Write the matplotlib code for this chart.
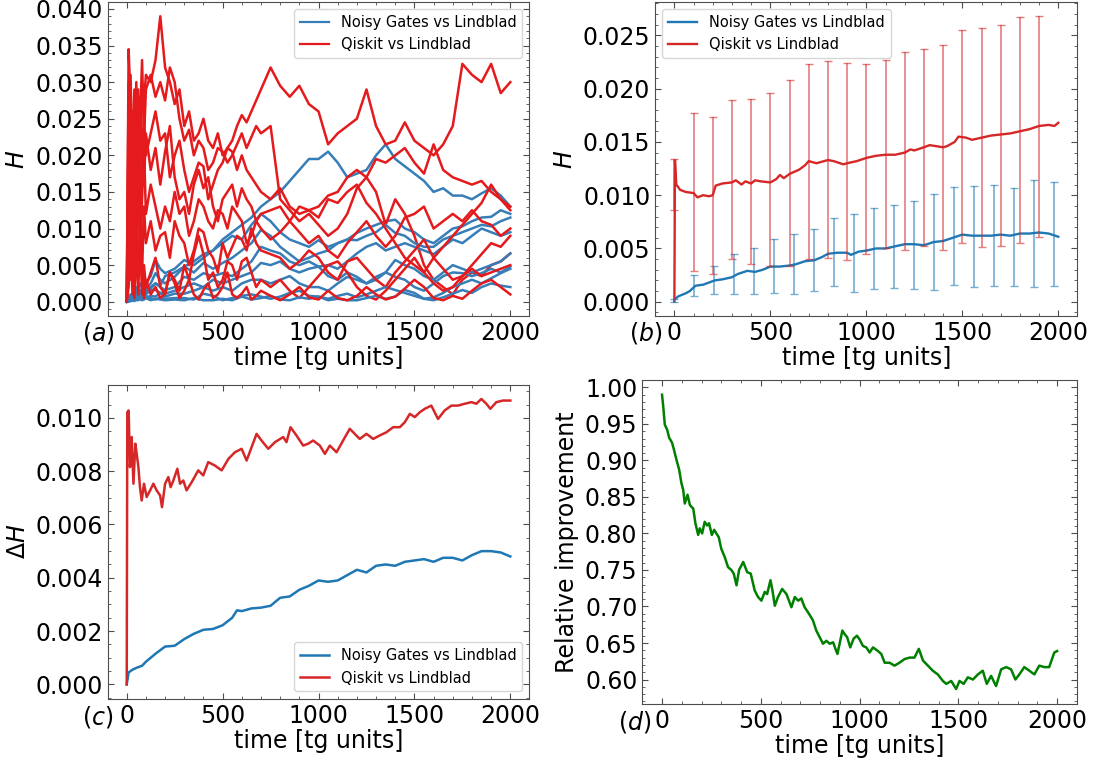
import matplotlib
matplotlib.use("Agg")
import matplotlib.pyplot as plt
import numpy as np
from matplotlib.ticker import MultipleLocator, AutoMinorLocator

# ---------------- data (H values in units of 1e-3) ----------------
# (a) individual runs
t_a_red = list(range(0, 101, 10)) + list(range(125, 701, 25)) + list(range(750, 2001, 50))
t_a_blue = [0, 10, 20, 30, 40, 50, 60, 70, 80, 90, 100, 125, 150, 175, 200,
            250, 300, 350, 400, 450, 500, 550, 600, 650, 700, 750, 800, 850, 900, 950,
            1000, 1050, 1100, 1150, 1200, 1250, 1300, 1350, 1400, 1450, 1500, 1550,
            1600, 1650, 1700, 1750, 1800, 1850, 1900, 1950, 2000]

red_runs = [
    [0, 24, 31, 18, 27, 25, 29, 21, 30, 27, 31,
     30, 33, 39, 32, 30, 27, 29, 24, 26, 22, 23, 25, 22, 21, 23, 20, 21, 22, 24, 25.5, 24.5, 26, 27.5, 29,
     32, 29.5, 28, 29.5, 27, 26, 21.5, 23, 24, 25, 29, 24, 21.5, 22, 24.5, 22, 21, 20, 21.5, 24, 32.5, 31, 30, 32.5, 28.5, 30],
    [0, 34.5, 27, 8, 20, 30, 16, 25, 33, 22, 29,
     31, 28, 30, 27.5, 32, 30, 25, 22, 23.5, 20, 22, 21, 18, 19, 21, 20.5, 19, 20, 21.5, 23, 21, 22.5, 24, 23,
     24, 14, 12.5, 11, 12, 10.5, 9, 10, 12, 15.5, 17, 15, 10.5, 14, 12, 9, 5, 3, 2, 1, 3, 4, 3.5, 5, 5.5, 6.6],
    [0, 8, 19, 26, 14, 22, 12, 28, 18, 25, 20,
     23, 26, 22, 23, 17, 20, 22, 18, 15, 17, 19, 18.5, 14, 16, 18, 19, 21, 20.5, 18, 20, 18, 17, 16, 15,
     14, 15.5, 13, 12, 12.5, 13, 14.5, 15, 17, 18, 17, 19.5, 19, 20, 21, 19, 17.5, 21.5, 18, 17, 16.5, 16, 16.5, 15, 14, 13],
    [0, 30, 14, 24, 9, 17, 26, 11, 20, 16, 23,
     18, 21, 16, 20.5, 24, 17, 14, 15, 12, 16, 18, 15.5, 17, 13, 11, 14, 15, 16, 13, 15.5, 14, 13, 11, 12,
     12.5, 13, 11, 9.5, 8, 9, 7, 6, 8, 9.5, 11, 9, 7.5, 9, 11.5, 12, 13, 10, 11, 12, 11, 12.5, 11, 10.5, 9, 10],
    [0, 18, 6, 22, 29, 10, 20, 4, 14, 21, 12,
     16, 13, 10, 13, 11, 15, 12, 13, 9, 11, 14, 13, 11, 10, 12.5, 12, 10, 13, 12, 11, 8, 9, 11, 10,
     8.5, 9.5, 11, 13, 12.5, 11.5, 14, 13.5, 15, 16, 13.5, 12, 10, 8, 6, 5, 4, 6, 7.5, 9, 10.5, 12, 13.5, 16, 14, 12.5],
    [0, 5, 16, 3, 12, 7, 19, 9, 4, 13, 8,
     11, 7, 9, 9.5, 6, 11, 9, 8, 5, 7, 10, 9.5, 7, 6, 4, 8, 6, 7.5, 9, 8.5, 7, 10, 8, 7,
     6.5, 6, 4.5, 5.5, 7, 6, 4, 3, 5.5, 6, 4.5, 3, 2, 4, 5.5, 7, 8.5, 6, 4.5, 3, 3.5, 5, 6.5, 8, 7.5, 9],
    [0, 2, 9, 1, 6, 13, 3, 8, 1, 5, 2,
     4, 6, 2, 1, 4, 3, 1.5, 5, 3, 6.5, 9, 6.5, 3, 4, 2, 3, 5.5, 5, 3, 5.5, 6, 4, 2, 3,
     2, 3, 1.5, 0.5, 2, 3.5, 5, 5.5, 4, 2, 0.8, 0.3, 1.5, 3, 4.5, 6, 4, 2.5, 1.5, 2, 3.5, 4.5, 3.5, 4, 4.5, 5],
    [0, 10, 3, 15, 0.5, 8, 1, 12, 5, 0.5, 3,
     1, 2, 0.5, 1.1, 4, 2.5, 0.5, 1.5, 3, 1, 0.3, 1.6, 2.5, 0.5, 1, 2, 4, 1, 0.5, 1.1, 2, 0.3, 0.8, 1.5,
     0.8, 0.2, 1, 2, 0.6, 0.3, 1.5, 0.5, 0.2, 0.8, 2, 1, 0.3, 0.7, 1.8, 3, 2, 0.5, 0.2, 0.8, 0.4, 1.5, 2.5, 3, 2, 1],
]

blue_runs = [
    [0, 0.3, 0.5, 0.4, 0.8, 1, 0.7, 1.2, 1.5, 1.3, 1.6, 2, 2.5, 2.2, 3.5,
     4, 4.8, 5.5, 6.5, 7, 8.5, 9.5, 10.5, 11.5, 13, 14, 15, 16.5, 18, 19.5,
     19.5, 20.5, 19, 17, 17.5, 18, 20, 21.5, 19.5, 18.5, 17.5, 16.5, 15, 15.5, 14.5, 14.5, 14, 14.8, 15.5, 14.5, 13],
    [0, 0.5, 1, 0.6, 1.5, 2, 1.4, 2.5, 2, 3, 2.6, 3.5, 5.7, 4.5, 3.9,
     4.5, 5.7, 5, 6, 7, 8, 9, 8.5, 10.5, 12, 11, 9.5, 8.5, 8, 7.5,
     8.4, 7.5, 8, 8.5, 9.4, 10, 10.5, 11, 11.2, 10, 9.5, 8.5, 8, 9, 10, 10.3, 11, 11.5, 11.6, 12.5, 12],
    [0, 0.2, 0.6, 1, 0.5, 1.2, 1.8, 1, 1.5, 2.2, 1.8, 2.5, 3.9, 3, 2.5,
     3.4, 4.8, 4, 5.3, 4.5, 5.3, 6, 7, 8, 9.8, 9, 7.5, 6.5, 5.5, 6,
     6.6, 7, 8, 8.5, 8.4, 9, 9.5, 10.5, 9.4, 9, 8, 7.5, 7.5, 8.5, 9, 9.5, 10, 10.5, 10.3, 11, 11.5],
    [0, 0.1, 0.3, 0.8, 1.2, 0.6, 1, 1.6, 1.2, 0.8, 1.4, 1.8, 2.5, 2, 1.6,
     2, 3.4, 3, 3.9, 3.5, 3.9, 3.5, 4.5, 5.5, 7.5, 7, 6.6, 5.5, 5, 5.5,
     4.8, 5, 4.5, 5.5, 6.6, 7.5, 8, 7, 7.5, 8, 7.5, 7, 6.5, 7.5, 8.5, 8, 9, 10, 9.5, 9, 9.5],
    [0, 0.2, 0.1, 0.5, 0.9, 1.3, 0.8, 0.5, 1, 1.5, 1, 1.6, 1.6, 1.2, 1.1,
     1.5, 2, 2.5, 2, 3, 2.5, 3, 3.5, 4, 5.3, 5, 5.5, 4.5, 4, 4.5,
     4.8, 3.5, 3, 4, 3.4, 2.5, 3, 4, 5.7, 5, 4.5, 3.5, 3, 4, 5, 4.5, 4, 4.5, 5, 5.5, 6.6],
    [0, 0, 0.3, 0.2, 0.6, 0.4, 0.9, 0.6, 0.3, 0.7, 0.5, 0.8, 0.7, 1.2, 0.7,
     1.1, 1.1, 1.5, 2, 1.5, 2, 1.5, 2.5, 3, 3, 2.5, 3, 3.5, 2.5, 2,
     2, 1.5, 2.5, 3.4, 3, 2.5, 3.4, 4, 3.4, 3, 2, 1.5, 2.5, 3.5, 4, 3.9, 3.5, 3.9, 4.5, 4, 4.8],
    [0, 0.1, 0.2, 0.1, 0.3, 0.2, 0.5, 0.3, 0.6, 0.4, 0.8, 0.5, 0.3, 0.6, 0.4,
     0.5, 0.5, 0.3, 1.1, 0.8, 0.2, 0.5, 0.8, 1, 0.7, 0.4, 0.7, 1.2, 1.5, 0.8,
     0.7, 0.4, 0.8, 1.1, 0.6, 1, 1.5, 2, 1.6, 1.2, 0.8, 0.4, 0.6, 1.2, 2, 2.5, 3, 2.5, 3.2, 3.9, 4.5],
    [0, 0, 0.1, 0.2, 0.1, 0.3, 0.2, 0.4, 0.2, 0.3, 0.5, 0.2, 0.4, 0.3, 0.2,
     0.3, 0.2, 0.5, 0.2, 0.2, 0.4, 0.2, 0.7, 0.3, 0.5, 0.8, 0.3, 0.2, 0.6, 0.4,
     0.7, 0.2, 0.4, 0.2, 0.2, 0.5, 0.8, 0.4, 0.7, 1.6, 1.2, 0.4, 0.2, 0.6, 1.1, 1.6, 1.2, 2, 2.5, 2.2, 2],
]

# (b) averages with error bars
t_b_red = [0, 3, 10, 30, 60, 100, 120, 150, 180, 200, 215, 250, 300, 320, 350, 370, 400, 420, 450, 500,
           530, 550, 570, 600, 650, 680, 700, 740, 780, 800, 830, 880, 900, 950, 1000, 1050, 1100, 1150,
           1200, 1230, 1250, 1300, 1330, 1400, 1420, 1460, 1480, 1520, 1550, 1600, 1650, 1700, 1750,
           1800, 1850, 1900, 1950, 1980, 2000]
h_b_red = [0, 13.3, 11.0, 10.5, 10.3, 10.2, 9.8, 10.0, 9.9, 10.0, 10.9, 11.1, 11.2, 11.4, 11.0, 11.3,
           11.1, 11.4, 11.3, 11.2, 11.5, 11.9, 11.6, 12.0, 12.4, 12.8, 13.2, 13.0, 13.2, 13.3, 13.2,
           12.9, 13.0, 13.2, 13.5, 13.7, 13.8, 13.8, 14.0, 14.3, 14.2, 14.5, 14.7, 14.5, 14.6, 15.0,
           15.5, 15.4, 15.2, 15.4, 15.6, 15.7, 15.8, 16.0, 16.2, 16.5, 16.6, 16.5, 16.8]
t_b_blue = [0, 20, 60, 80, 110, 150, 180, 210, 250, 300, 330, 380, 420, 460, 500, 550, 600, 630, 680,
            730, 770, 800, 850, 900, 920, 960, 1000, 1050, 1100, 1150, 1200, 1250, 1300, 1350, 1400,
            1450, 1500, 1550, 1600, 1650, 1700, 1750, 1800, 1850, 1900, 1950, 2000]
h_b_blue = [0.2, 0.5, 0.8, 1.0, 1.5, 1.6, 1.8, 2.0, 2.1, 2.3, 2.6, 2.9, 2.8, 3.0, 3.3, 3.3, 3.4, 3.5,
            3.8, 3.9, 4.2, 4.5, 4.6, 4.6, 4.4, 4.7, 4.8, 5.0, 5.0, 5.2, 5.4, 5.4, 5.3, 5.6, 5.7, 6.0,
            6.3, 6.2, 6.2, 6.2, 6.3, 6.2, 6.4, 6.4, 6.5, 6.4, 6.1]

eb_red_t = [0, 100, 200, 300, 400, 500, 600, 700, 800, 900, 1000, 1100, 1200, 1300, 1400, 1500,
            1600, 1700, 1800, 1900]
eb_red_lo = [8.6, 2.9, 2.6, 4.0, 3.5, 3.4, 3.4, 4.0, 4.1, 3.9, 4.5, 5.0, 4.9, 5.2, 4.9, 5.5, 5.1, 5.2, 5.5, 6.1]
eb_red_hi = [13.4, 17.7, 17.3, 18.9, 19.0, 19.6, 20.8, 22.3, 22.6, 22.4, 22.3, 22.7, 23.4, 23.7, 24.1,
             25.5, 25.7, 26.0, 26.7, 26.8]
eb_blue_t = [0, 104, 208, 312, 416, 520, 624, 728, 832, 936, 1040, 1144, 1248, 1352, 1456, 1560,
             1664, 1768, 1872, 1976]
eb_blue_lo = [0.0, 0.5, 0.7, 0.7, 0.7, 0.8, 0.7, 1.0, 1.5, 0.9, 1.2, 1.25, 1.2, 1.1, 1.6, 1.4, 1.5, 1.5, 1.4, 1.5]
eb_blue_hi = [0.3, 2.5, 3.4, 4.5, 5.0, 5.9, 6.4, 6.8, 7.9, 8.25, 8.8, 9.1, 9.5, 10.1, 10.8, 10.9, 11.0,
              10.7, 11.4, 11.2]

# (c) Delta H
t_c_red = [0, 3, 10, 17, 26, 35, 45, 52, 61, 69, 78, 90, 104, 122, 139, 156, 174, 184, 200, 217,
           229, 243, 264, 278, 295, 312, 339, 373, 399, 425, 460, 495, 530, 564, 599, 625, 651, 677,
           703, 738, 773, 816, 833, 854, 885, 920, 946, 972, 1007, 1033, 1059, 1094, 1128, 1163,
           1189, 1215, 1250, 1285, 1319, 1354, 1389, 1424, 1450, 1476, 1502, 1528, 1554, 1588,
           1623, 1658, 1693, 1727, 1762, 1797, 1823, 1849, 1875, 1896, 1927, 1962, 2000]
dh_c_red = [0.0, 10.21, 10.28, 8.15, 9.28, 7.53, 9.03, 8.65, 8.15, 7.4, 6.9, 7.53, 7.03, 7.28, 7.53,
            7.28, 7.09, 6.65, 7.53, 7.78, 7.4, 7.65, 8.09, 7.53, 7.65, 7.28, 7.59, 8.03, 7.84, 8.34,
            8.21, 8.03, 8.46, 8.71, 8.84, 8.40, 8.9, 9.4, 9.15, 8.84, 9.09, 9.28, 9.09, 9.65, 9.34,
            8.96, 9.03, 9.15, 8.96, 8.65, 8.96, 8.71, 9.15, 9.59, 9.4, 9.21, 9.4, 9.21, 9.34, 9.46,
            9.65, 9.65, 9.84, 10.15, 10.03, 10.21, 10.34, 10.46, 9.96, 10.28, 10.46, 10.46, 10.53,
            10.59, 10.53, 10.71, 10.53, 10.34, 10.59, 10.65, 10.65]
t_c_blue = [0, 10, 30, 50, 80, 100, 150, 200, 250, 300, 350, 400, 450, 500, 550, 575, 600, 650, 700,
            750, 800, 850, 900, 950, 1000, 1050, 1100, 1150, 1200, 1250, 1300, 1350, 1400, 1450,
            1500, 1550, 1600, 1650, 1700, 1750, 1800, 1850, 1900, 1950, 2000]
dh_c_blue = [0.0, 0.45, 0.55, 0.62, 0.70, 0.85, 1.15, 1.42, 1.45, 1.70, 1.90, 2.05, 2.08, 2.22, 2.50,
             2.78, 2.75, 2.85, 2.88, 2.95, 3.25, 3.30, 3.55, 3.70, 3.90, 3.85, 3.90, 4.10, 4.30, 4.20,
             4.45, 4.50, 4.45, 4.60, 4.65, 4.70, 4.60, 4.75, 4.75, 4.65, 4.85, 5.00, 5.00, 4.95, 4.80]

# (d) relative improvement
t_d = [0, 6, 14, 26, 36, 43, 51, 60, 73, 87, 98, 107, 115, 129, 141, 158, 169, 183, 191, 203,
       216, 228, 238, 252, 264, 275, 287, 300, 317, 334, 351, 363, 377, 390, 411, 431, 449, 469,
       486, 503, 520, 532, 549, 559, 571, 587, 608, 630, 655, 672, 689, 705, 722, 744, 764, 781,
       798, 815, 832, 849, 866, 878, 888, 899, 913, 925, 937, 953, 970, 987, 1000, 1017, 1034,
       1051, 1068, 1093, 1110, 1127, 1152, 1177, 1202, 1228, 1253, 1278, 1300, 1321, 1346, 1371,
       1396, 1422, 1439, 1464, 1489, 1506, 1527, 1548, 1574, 1599, 1624, 1644, 1666, 1691, 1717,
       1742, 1767, 1789, 1809, 1834, 1860, 1885, 1910, 1935, 1960, 1986, 2000]
rel_d = [0.990, 0.974, 0.949, 0.942, 0.931, 0.928, 0.924, 0.915, 0.901, 0.887, 0.869, 0.860, 0.841,
         0.853, 0.839, 0.834, 0.814, 0.798, 0.807, 0.800, 0.816, 0.811, 0.814, 0.798, 0.805, 0.800,
         0.795, 0.779, 0.768, 0.754, 0.750, 0.745, 0.729, 0.750, 0.761, 0.747, 0.745, 0.722, 0.713,
         0.708, 0.720, 0.717, 0.736, 0.722, 0.701, 0.713, 0.724, 0.717, 0.699, 0.713, 0.708, 0.711,
         0.699, 0.690, 0.681, 0.667, 0.658, 0.649, 0.653, 0.649, 0.651, 0.642, 0.635, 0.649, 0.667,
         0.662, 0.658, 0.644, 0.656, 0.660, 0.655, 0.646, 0.644, 0.637, 0.644, 0.639, 0.635, 0.623,
         0.623, 0.619, 0.623, 0.628, 0.630, 0.630, 0.642, 0.626, 0.619, 0.612, 0.607, 0.598, 0.594,
         0.598, 0.587, 0.598, 0.594, 0.603, 0.600, 0.607, 0.612, 0.594, 0.605, 0.591, 0.614, 0.617,
         0.614, 0.600, 0.607, 0.617, 0.612, 0.607, 0.619, 0.617, 0.617, 0.637, 0.639]

labels = ["Noisy Gates vs Lindblad", "Qiskit vs Lindblad"]

# ---------------- figure ----------------
FS = 17
fig = plt.figure(figsize=(10.94, 7.64), dpi=100)
ax_a = fig.add_axes([0.0983, 0.5864, 0.3857, 0.4110])
ax_b = fig.add_axes([0.5989, 0.5864, 0.3860, 0.4110])
ax_c = fig.add_axes([0.0983, 0.0855, 0.3857, 0.4110])
ax_d = fig.add_axes([0.5871, 0.0789, 0.3972, 0.4237])


def style(ax, ystep):
    ax.xaxis.set_major_locator(MultipleLocator(500))
    ax.xaxis.set_minor_locator(MultipleLocator(100))
    ax.yaxis.set_major_locator(MultipleLocator(ystep))
    ax.yaxis.set_minor_locator(AutoMinorLocator())
    ax.tick_params(which="both", direction="in", top=True, right=True,
                   labelsize=FS, color="0.3")
    ax.tick_params(which="major", length=4.5)
    ax.tick_params(which="minor", length=2.5)
    for s in ax.spines.values():
        s.set_color("0.3")
    ax.set_xlabel("time [tg units]", fontsize=FS, labelpad=1)


# (a)
for b, r in zip(blue_runs, red_runs):
    ax_a.plot(t_a_blue, np.array(b) * 1e-3, color="#377eb8", lw=1.8)
    ax_a.plot(t_a_red, np.array(r) * 1e-3, color="#e41a1c", lw=1.8)
ax_a.plot([], [], color="#377eb8", lw=1.6, label=labels[0])
ax_a.plot([], [], color="#e41a1c", lw=1.6, label=labels[1])
style(ax_a, 0.005)
ax_a.set_ylabel("$H$", fontsize=FS)
ax_a.legend(loc="upper right", fontsize=10.5)

# (b)
ax_b.plot(t_b_blue, np.array(h_b_blue) * 1e-3, color="#1f77b4", lw=1.7, label=labels[0])
ax_b.plot(t_b_red, np.array(h_b_red) * 1e-3, color="#d62728", lw=1.7, label=labels[1])
lo, hi = np.array(eb_blue_lo) * 1e-3, np.array(eb_blue_hi) * 1e-3
ax_b.errorbar(eb_blue_t, (lo + hi) / 2, yerr=(hi - lo) / 2, fmt="none", ecolor="#1f77b4",
              elinewidth=1.2, capsize=3, alpha=0.6)
lo, hi = np.array(eb_red_lo) * 1e-3, np.array(eb_red_hi) * 1e-3
ax_b.errorbar(eb_red_t, (lo + hi) / 2, yerr=(hi - lo) / 2, fmt="none", ecolor="#d62728",
              elinewidth=1.2, capsize=3, alpha=0.6)
style(ax_b, 0.005)
ax_b.set_ylabel("$H$", fontsize=FS)
ax_b.legend(loc="upper left", fontsize=10.5)

# (c)
ax_c.plot(t_c_blue, np.array(dh_c_blue) * 1e-3, color="#1f77b4", lw=1.8, label=labels[0])
ax_c.plot(t_c_red, np.array(dh_c_red) * 1e-3, color="#d62728", lw=1.8, label=labels[1])
style(ax_c, 0.002)
ax_c.set_ylabel(r"$\Delta H$", fontsize=FS)
ax_c.legend(loc="lower right", fontsize=10.5)

# (d)
ax_d.plot(t_d, rel_d, color="green", lw=1.8)
style(ax_d, 0.05)
ax_d.set_ylabel("Relative improvement", fontsize=FS)

# panel labels
for x, y, s in [(115, 333, "$(a)$"), (662, 333, "$(b)$"), (113, 717, "$(c)$"), (651, 722, "$(d)$")]:
    fig.text(x / 1094, 1 - y / 764, s, ha="right", va="center", fontsize=FS)

fig.savefig("out.png", dpi=100)
